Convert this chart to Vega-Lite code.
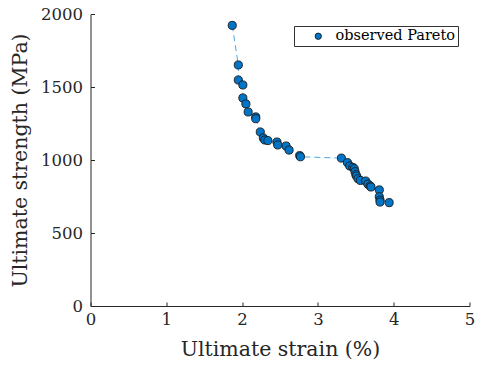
{
  "$schema": "https://vega.github.io/schema/vega-lite/v6.json",
  "autosize": "none",
  "width": 379,
  "height": 292,
  "padding": {"left": 90.5, "top": 14, "right": 7.5, "bottom": 66},
  "background": "white",
  "config": {
    "view": {"stroke": null},
    "font": "DejaVu Serif",
    "axis": {
      "labelFont": "DejaVu Serif",
      "titleFont": "DejaVu Serif",
      "labelFontSize": 16.5,
      "titleFontSize": 20.5,
      "titleFontWeight": "normal",
      "labelColor": "#262626",
      "titleColor": "#262626",
      "domainColor": "#262626",
      "tickColor": "#262626",
      "grid": false,
      "tickSize": -4,
      "domainWidth": 1,
      "tickWidth": 1,
      "labelFlush": false
    }
  },
  "data": {
    "values": [
      {"i": 1, "strain": 1.87, "strength": 1922},
      {"i": 2, "strain": 1.95, "strength": 1651},
      {"i": 3, "strain": 1.95, "strength": 1548},
      {"i": 4, "strain": 2.01, "strength": 1514},
      {"i": 5, "strain": 2.01, "strength": 1425},
      {"i": 6, "strain": 2.05, "strength": 1384},
      {"i": 7, "strain": 2.08, "strength": 1329},
      {"i": 8, "strain": 2.18, "strength": 1295},
      {"i": 9, "strain": 2.18, "strength": 1283},
      {"i": 10, "strain": 2.24, "strength": 1192},
      {"i": 11, "strain": 2.28, "strength": 1151},
      {"i": 12, "strain": 2.30, "strength": 1137},
      {"i": 13, "strain": 2.34, "strength": 1133},
      {"i": 14, "strain": 2.46, "strength": 1123},
      {"i": 15, "strain": 2.47, "strength": 1103},
      {"i": 16, "strain": 2.58, "strength": 1096},
      {"i": 17, "strain": 2.62, "strength": 1068},
      {"i": 18, "strain": 2.76, "strength": 1030},
      {"i": 19, "strain": 2.77, "strength": 1022},
      {"i": 20, "strain": 3.31, "strength": 1013},
      {"i": 21, "strain": 3.39, "strength": 982},
      {"i": 22, "strain": 3.42, "strength": 959},
      {"i": 23, "strain": 3.46, "strength": 950},
      {"i": 24, "strain": 3.48, "strength": 940},
      {"i": 25, "strain": 3.49, "strength": 920},
      {"i": 26, "strain": 3.50, "strength": 900},
      {"i": 27, "strain": 3.51, "strength": 890},
      {"i": 28, "strain": 3.53, "strength": 872},
      {"i": 29, "strain": 3.56, "strength": 860},
      {"i": 30, "strain": 3.63, "strength": 856},
      {"i": 31, "strain": 3.66, "strength": 835},
      {"i": 32, "strain": 3.69, "strength": 822},
      {"i": 33, "strain": 3.70, "strength": 815},
      {"i": 34, "strain": 3.81, "strength": 795},
      {"i": 35, "strain": 3.81, "strength": 748},
      {"i": 36, "strain": 3.82, "strength": 725},
      {"i": 37, "strain": 3.82, "strength": 712},
      {"i": 38, "strain": 3.94, "strength": 708}
    ]
  },
  "encoding": {
    "x": {
      "field": "strain",
      "type": "quantitative",
      "scale": {"domain": [0, 5], "nice": false, "zero": false},
      "axis": {"title": "Ultimate strain (%)", "values": [0, 1, 2, 3, 4, 5], "labelPadding": 9, "titlePadding": 12, "format": "d"}
    },
    "y": {
      "field": "strength",
      "type": "quantitative",
      "scale": {"domain": [0, 2000], "nice": false},
      "axis": {"title": "Ultimate strength (MPa)", "values": [0, 500, 1000, 1500, 2000], "labelPadding": 12, "titlePadding": 10, "format": "d"}
    }
  },
  "layer": [
    {
      "mark": {"type": "line", "color": "#4AA8E8", "strokeWidth": 1, "strokeDash": [6, 4]},
      "encoding": {"order": {"field": "i", "type": "quantitative"}}
    },
    {
      "mark": {"type": "point", "filled": true, "size": 66, "stroke": "#1a1a1a", "strokeWidth": 0.9, "opacity": 1},
      "encoding": {
        "color": {
          "datum": "observed Pareto",
          "type": "nominal",
          "scale": {"range": ["#0074C6"]},
          "legend": {
            "title": null,
            "orient": "none",
            "legendX": 203.5,
            "legendY": 12,
            "strokeColor": "#333333",
            "fillColor": "white",
            "padding": 3,
            "labelFont": "DejaVu Serif",
            "labelFontSize": 14.5,
            "labelColor": "#000000",
            "symbolSize": 40,
            "symbolStrokeColor": "#1a1a1a",
            "symbolStrokeWidth": 0.9,
            "symbolOffset": 14,
            "labelOffset": 10
          }
        }
      }
    }
  ]
}
